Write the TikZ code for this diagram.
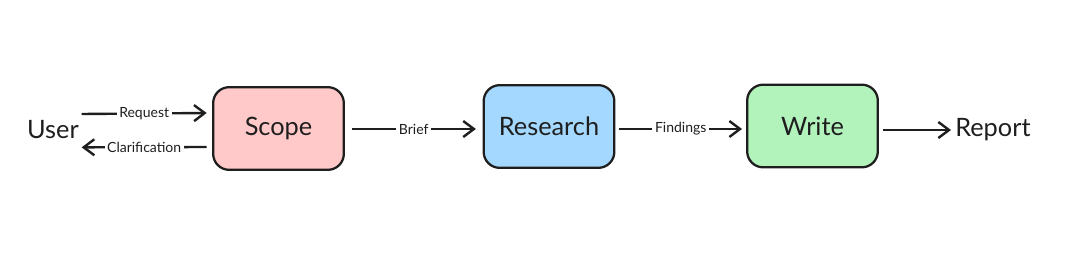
\documentclass[tikz,border=0pt]{standalone}
\usepackage{fontspec}
\setmainfont{Lato}
\usetikzlibrary{arrows.meta,positioning,calc}
\definecolor{flowInk}{HTML}{1E1E1E}
\definecolor{flowRed}{HTML}{FFC9C9}
\definecolor{flowBlue}{HTML}{A5D8FF}
\definecolor{flowGreen}{HTML}{B2F2BB}

\begin{document}
\begin{tikzpicture}[x=0.75pt,y=-0.75pt,
  stage/.style={draw=flowInk,line width=1.7pt,rounded corners=12pt,
                minimum width=98pt,minimum height=62pt,inner sep=0pt,
                font=\fontsize{19}{22}\selectfont,text=flowInk},
  ends/.style={font=\fontsize{19}{22}\selectfont,text=flowInk,inner sep=0pt},
  flow/.style={draw=flowInk,line width=1.8pt,
               -{Straight Barb[length=8pt,width=12pt,line width=1.8pt]}},
  tag/.style={fill=white,font=\fontsize{10.5}{12}\selectfont,text=flowInk,
              inner sep=2pt}]
\useasboundingbox (0,0) rectangle (1080,253);
\node[stage,fill=flowRed]   (scope)    at (278.5,128.5) {Scope};
\node[stage,fill=flowBlue]  (research) at (549,126.5)   {Research};
\node[stage,fill=flowGreen] (write)    at (812.5,126)   {Write};
\node[ends,anchor=east] (user)   at (79,130)  {User};
\node[ends,anchor=west] (report) at (955,130) {Report};
% user <-> scope
\draw[flow] ([xshift=2pt,yshift=12pt]user.east) -- node[tag,pos=0.5]{Request}
            ([xshift=-4pt]scope.west |- 0,113);
\draw[flow] ([xshift=-4pt]scope.west |- 0,147) -- node[tag,pos=0.5]{Clarification}
            ([xshift=2pt,yshift=-13pt]user.east);
% pipeline
\draw[flow] ([xshift=5pt]scope.east |- 0,129) -- node[tag]{Brief}
            ([xshift=-5pt]research.west |- 0,129);
\draw[flow] ([xshift=3pt]research.east |- 0,129) -- node[tag]{Findings}
            ([xshift=-3pt]write.west |- 0,129);
\draw[flow] ([xshift=3pt]write.east |- 0,130) -- ([xshift=-3pt]report.west);
\end{tikzpicture}
\end{document}
